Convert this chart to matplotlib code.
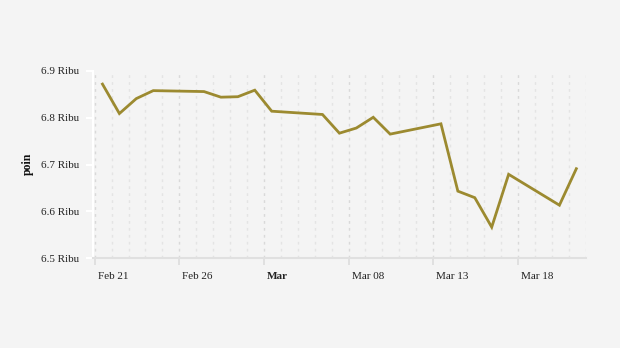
import matplotlib
matplotlib.use("Agg")
import matplotlib.pyplot as plt
import matplotlib.dates as mdates
import matplotlib.transforms as mtransforms
import pandas as pd

# ---- data ----
dates = ["2023-02-21", "2023-02-22", "2023-02-23", "2023-02-24",
         "2023-02-27", "2023-02-28", "2023-03-01", "2023-03-02", "2023-03-03",
         "2023-03-06", "2023-03-07", "2023-03-08", "2023-03-09", "2023-03-10",
         "2023-03-13", "2023-03-14", "2023-03-15", "2023-03-16", "2023-03-17",
         "2023-03-20", "2023-03-21"]
values = [6.872, 6.809, 6.841, 6.858,
          6.856, 6.844, 6.845, 6.859, 6.814,
          6.807, 6.767, 6.778, 6.801, 6.765,
          6.787, 6.643, 6.629, 6.566, 6.679,
          6.613, 6.691]
tick_dates = ["2023-02-21", "2023-02-26", "2023-03-03", "2023-03-08", "2023-03-13", "2023-03-18"]
tick_labels = ["Feb 21", "Feb 26", "Mar", "Mar 08", "Mar 13", "Mar 18"]
y_ticks = [6.5, 6.6, 6.7, 6.8, 6.9]
y_tick_labels = ["6.5 Ribu", "6.6 Ribu", "6.7 Ribu", "6.8 Ribu", "6.9 Ribu"]
y_label = "poin"

x = pd.to_datetime(dates) + pd.Timedelta(hours=11)

BG = "#f4f4f4"
LINE = "#9c8a30"
FONT = ["Liberation Serif", "DejaVu Serif"]

fig = plt.figure(figsize=(6.2, 3.48), dpi=100, facecolor=BG)
ax = fig.add_axes([93.3 / 620, 1 - 258 / 348, (585.5 - 93.3) / 620, (258 - 71) / 348])
ax.set_facecolor(BG)

ax.plot(x, values, color=LINE, linewidth=2.0, solid_joinstyle="miter", zorder=3)

ax.set_xlim(pd.Timestamp("2023-02-20 22:00"), pd.Timestamp("2023-03-22 00:00"))
ax.set_ylim(6.5, 6.9)

major = pd.to_datetime(tick_dates)
ax.set_xticks(major)
ax.set_xticklabels(tick_labels)
ax.xaxis.set_minor_locator(mdates.DayLocator())

ax.grid(True, axis="x", which="major", color="#d9d9d9", linestyle=(0, (2, 3)), linewidth=1.0, zorder=1)
ax.grid(True, axis="x", which="minor", color="#e4e4e4", linestyle=(0, (2, 3)), linewidth=1.0, zorder=1)
ax.grid(False, axis="y")

ax.set_yticks(y_ticks)
ax.set_yticklabels(y_tick_labels)

for s in ["top", "right"]:
    ax.spines[s].set_visible(False)
ax.spines["left"].set_color("white")
ax.spines["left"].set_linewidth(1.5)
ax.spines["bottom"].set_color("#e0e0e0")
ax.spines["bottom"].set_linewidth(1.5)

ax.tick_params(axis="y", which="major", length=5, width=1.5, color="white", pad=5,
               labelsize=8, labelcolor="#222222")
ax.tick_params(axis="x", which="major", length=5, width=1.2, color="#dddddd", pad=5,
               labelsize=8, labelcolor="#222222")
ax.tick_params(axis="x", which="minor", length=0)

offset = mtransforms.ScaledTranslation(3 / 100, 0, fig.dpi_scale_trans)
for lbl in ax.get_xticklabels():
    lbl.set_horizontalalignment("left")
    lbl.set_transform(lbl.get_transform() + offset)
    lbl.set_family(FONT)
    if lbl.get_text() == "Mar":
        lbl.set_fontweight("bold")
for lbl in ax.get_yticklabels():
    lbl.set_family(FONT)

fig.text(28 / 620, 1 - 164 / 348, y_label, family=FONT, fontsize=8.5, fontweight="bold",
         color="#111111", rotation=90, ha="center", va="center")

fig.savefig("out.png", dpi=100, facecolor=BG)
